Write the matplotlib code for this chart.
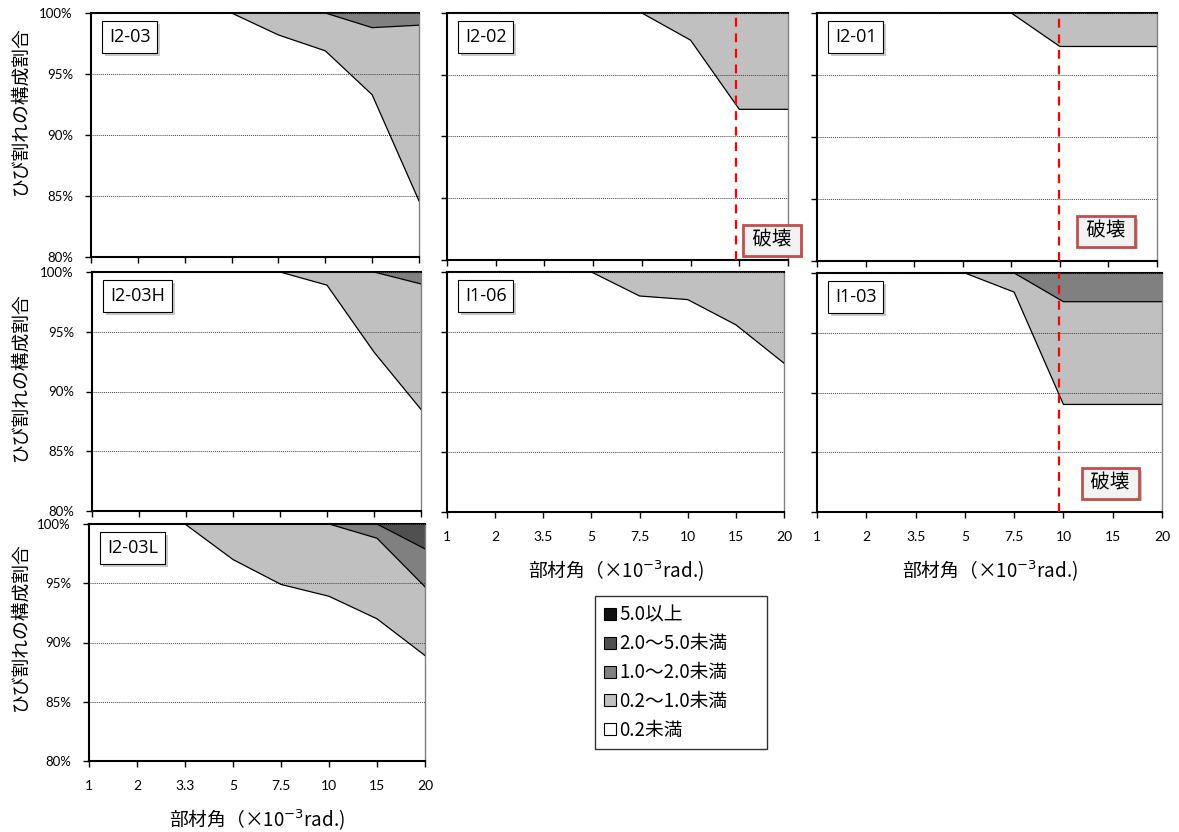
import numpy as np
import matplotlib
matplotlib.use('Agg')
import matplotlib.pyplot as plt
import matplotlib.patheffects as pe
from matplotlib.lines import Line2D
from matplotlib.transforms import ScaledTranslation

plt.rcParams['font.family'] = ['Noto Sans CJK JP', 'DejaVu Sans']

W, H = 1179, 832

# member angle categories (x10^-3 rad)
angles = ['1', '2', '3.5', '5', '7.5', '10', '15', '20']
angles_L = ['1', '2', '3.3', '5', '7.5', '10', '15', '20']

classes = ['0.2未満', '0.2～1.0未満', '1.0～2.0未満', '2.0～5.0未満', '5.0以上']
class_colors = ['#ffffff', '#c0c0c0', '#808080', '#505050', '#111111']

y_ticks = [80, 85, 90, 95, 100]
y_ticklabels = ['80%', '85%', '90%', '95%', '100%']

# share of each crack width class [%], lowest class first
I2_03 = [[100, 100, 100, 100, 98.2, 96.9, 93.3, 84.6],
         [0, 0, 0, 0, 1.8, 3.1, 5.5, 14.4],
         [0, 0, 0, 0, 0, 0, 1.2, 1.0]]
I2_02 = [[100, 100, 100, 100, 100, 97.8, 92.2, 92.2],
         [0, 0, 0, 0, 0, 2.2, 7.8, 7.8]]
I2_01 = [[100, 100, 100, 100, 100, 97.3, 97.3, 97.3],
         [0, 0, 0, 0, 0, 2.7, 2.7, 2.7]]
I2_03H = [[100, 100, 100, 100, 100, 98.9, 93.3, 88.5],
          [0, 0, 0, 0, 0, 1.1, 6.7, 10.5],
          [0, 0, 0, 0, 0, 0, 0, 1.0]]
I1_06 = [[100, 100, 100, 100, 98.0, 97.7, 95.6, 92.4],
         [0, 0, 0, 0, 2.0, 2.3, 4.4, 7.6]]
I1_03 = [[100, 100, 100, 100, 98.4, 89.0, 89.0, 89.0],
         [0, 0, 0, 0, 1.6, 8.6, 8.6, 8.6],
         [0, 0, 0, 0, 0, 2.4, 2.4, 2.4]]
I2_03L = [[100, 100, 100, 97.0, 94.9, 93.9, 92.0, 88.9],
          [0, 0, 0, 3.0, 5.1, 6.1, 6.8, 5.8],
          [0, 0, 0, 0, 0, 0, 1.2, 3.2],
          [0, 0, 0, 0, 0, 0, 0, 2.1]]

# failure point (position on the category axis)
fail_I2_02 = 5.94
fail_I2_01 = 4.98
fail_I1_03 = 4.9


def px_rect(x0, y0, x1, y1):
    return [x0 / W, 1 - y1 / H, (x1 - x0) / W, (y1 - y0) / H]


fig = plt.figure(figsize=(W / 100, H / 100), dpi=100)

# name, data, tick labels, rect(px), failure, failure box pos, show x labels, show y labels
panels = [
    ('I2-03', I2_03, angles, (91, 13, 419, 257), None, None, False, True),
    ('I2-02', I2_02, angles, (447, 13, 788, 260), fail_I2_02, (0.953, 0.08), False, False),
    ('I2-01', I2_01, angles, (817, 13, 1157, 261), fail_I2_01, (0.85, 0.12), False, False),
    ('I2-03H', I2_03H, angles, (92, 272, 421, 511), None, None, False, True),
    ('I1-06', I1_06, angles, (447, 272, 784, 512), None, None, True, False),
    ('I1-03', I1_03, angles, (817, 273, 1162, 512), fail_I1_03, (0.85, 0.12), True, False),
    ('I2-03L', I2_03L, angles_L, (89, 524, 425, 761), None, None, True, True),
]

for name, data, labels, rect, fail, fbox, showx, showy in panels:
    ax = fig.add_axes(px_rect(*rect))
    x = np.arange(len(labels))
    vals = np.array(data, dtype=float)
    ax.stackplot(x, vals, colors=class_colors[:len(vals)], linewidth=0, zorder=1)
    cum = np.cumsum(vals, axis=0)
    for row in cum[:-1]:
        ax.plot(x, row, color='black', lw=0.9, zorder=3)

    ax.set_xlim(0, len(labels) - 1)
    ax.set_ylim(80, 100)
    ax.set_xticks(x)
    ax.set_xticklabels(labels)
    ax.set_yticks(y_ticks)
    ax.set_yticklabels(y_ticklabels)
    ax.yaxis.grid(True, ls=(0, (1, 1)), color='#444444', lw=0.7, zorder=2.5)
    ax.set_axisbelow(False)
    ax.tick_params(direction='out', length=4, width=1, labelfontfamily='Lato')
    ax.tick_params(axis='y', pad=9, labelsize=9.5)
    ax.tick_params(axis='x', pad=10, labelsize=10)
    ax.tick_params(labelbottom=showx, labelleft=showy)
    for s in ['left', 'bottom', 'top']:
        ax.spines[s].set_linewidth(1.5)
        ax.spines[s].set_color('black')
    ax.spines['right'].set_linewidth(1.0)
    ax.spines['right'].set_color('#808080')

    if fail is not None:
        ax.axvline(fail, color='#ff0000', ls=(0, (4, 3)), lw=1.6, zorder=4)
        t = ax.text(fbox[0], fbox[1], ' 破壊 ', transform=ax.transAxes, ha='center',
                    va='center', fontsize=14, clip_on=False, zorder=6,
                    bbox=dict(boxstyle='square,pad=0.25', fc='#f2f2f2', ec='#c0504d', lw=2))
        t.get_bbox_patch().set_path_effects([pe.withSimplePatchShadow(offset=(2, -2), alpha=0.3)])

    off = ScaledTranslation(18 / 100, -15 / 100, fig.dpi_scale_trans)
    t = ax.text(0, 1, name, transform=ax.transAxes + off, ha='left', va='top',
                fontsize=13, family='Open Sans', zorder=6,
                bbox=dict(boxstyle='square,pad=0.38', fc='white', ec='black', lw=0.8))
    t.get_bbox_patch().set_path_effects([pe.withSimplePatchShadow(offset=(2, -2), alpha=0.3)])

    if showx:
        ax.set_xlabel('部材角（×10$^{-3}$rad.)', fontsize=13.5, labelpad=11)

for yc in [111, 377, 627]:
    fig.text(20 / W, 1 - yc / H, 'ひび割れの構成割合', rotation=90, ha='center',
             va='center', fontsize=13.5)

handles = []
for c in class_colors[::-1]:
    handles.append(Line2D([], [], marker='s', ls='none', markersize=8,
                          markerfacecolor=c, markeredgecolor='black', markeredgewidth=0.8))
leg = fig.legend(handles, classes[::-1], loc='upper left',
                 bbox_to_anchor=(595 / W, 1 - 596 / H, 172 / W, 0.0001), mode='expand',
                 frameon=True, fancybox=False, edgecolor='black', borderaxespad=0,
                 handlelength=0.7, handletextpad=0.15, labelspacing=0.42,
                 borderpad=0.45, fontsize=13.5)
leg.get_frame().set_linewidth(1.0)

fig.savefig('out.png', dpi=100)
